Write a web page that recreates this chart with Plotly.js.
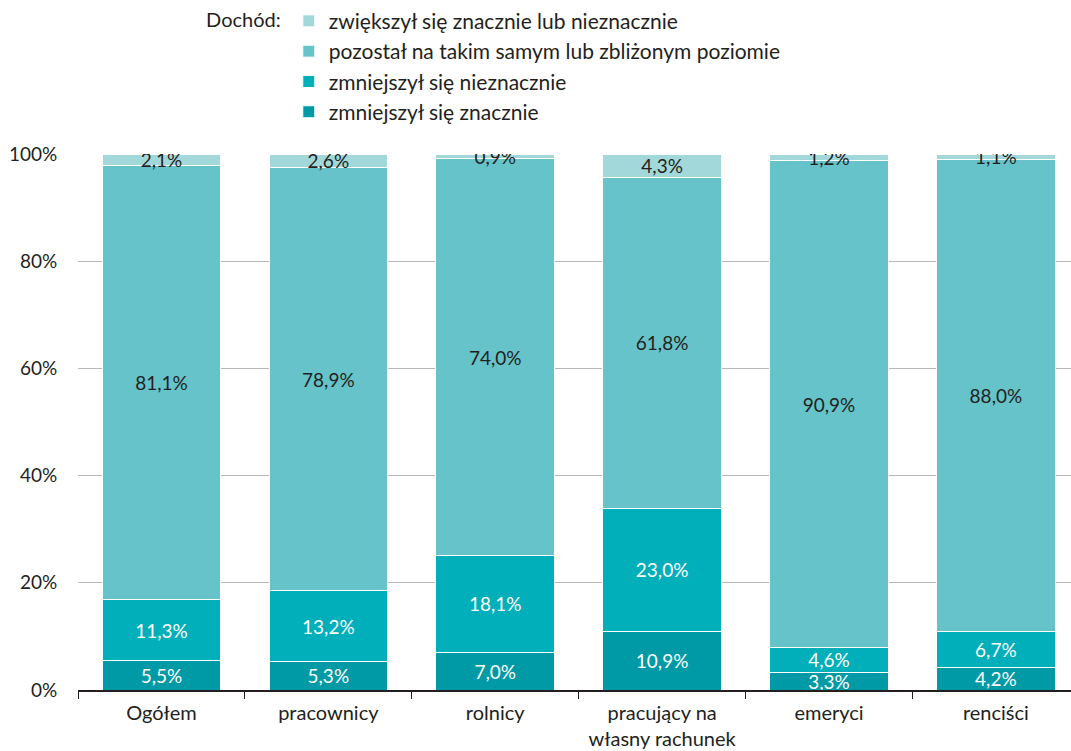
<!DOCTYPE html>
<html><head><meta charset="utf-8">
<script src="https://cdn.plot.ly/plotly-3.0.1.min.js"></script>
<style>html,body{margin:0;padding:0;background:#fff}</style>
</head><body><div id="chart" style="width:1071px;height:751px"></div>
<script>
var categories = ["Ogółem", "pracownicy", "rolnicy", "pracujący na<br>własny rachunek", "emeryci", "renciści"];
var seriesNames = ["zmniejszył się znacznie", "zmniejszył się nieznacznie", "pozostał na takim samym lub zbliżonym poziomie", "zwiększył się znacznie lub nieznacznie"];
var decreasedMuch = [5.5, 5.3, 7.0, 10.9, 3.3, 4.2];
var decreasedLittle = [11.3, 13.2, 18.1, 23.0, 4.6, 6.7];
var unchanged = [81.1, 78.9, 74.0, 61.8, 90.9, 88.0];
var increased = [2.1, 2.6, 0.9, 4.3, 1.2, 1.1];
var yTickVals = [0, 20, 40, 60, 80, 100];
var yTickText = ["0%", "20%", "40%", "60%", "80%", "100%"];

var values = [decreasedMuch, decreasedLittle, unchanged, increased];
var colors = ["#009aa6", "#00afba", "#65c3c9", "#a3d8db"];
var textColors = ["#ffffff", "#ffffff", "#231f20", "#231f20"];
var FONT = "Lato, 'Open Sans', sans-serif";

function fmt(v){ return v.toFixed(1).replace('.', ',') + '%'; }

var traces = values.map(function(vals, i){
  return {
    type: 'bar',
    name: seriesNames[i],
    legendrank: 10 - i,
    x: categories,
    y: vals,
    text: vals.map(fmt),
    textposition: 'inside',
    insidetextanchor: 'middle',
    constraintext: 'none',
    textangle: 0,
    textfont: {family: FONT, size: 19, color: textColors[i]},
    marker: {color: colors[i], line: {color: '#ffffff', width: 1}},
    hoverinfo: 'skip'
  };
});

var layout = {
  width: 1071, height: 751,
  margin: {l: 78, r: 0, t: 154, b: 61},
  paper_bgcolor: '#ffffff', plot_bgcolor: '#ffffff',
  barmode: 'stack',
  bargap: 0.29,
  font: {family: FONT, size: 19, color: '#231f20'},
  xaxis: {
    type: 'category',
    range: [-0.5, 5.45],
    tickson: 'boundaries',
    ticks: 'outside', ticklen: 7, tickwidth: 1, tickcolor: '#231f20',
    ticklabelstandoff: 4,
    showline: true, linecolor: '#231f20', linewidth: 2,
    showgrid: false,
    tickfont: {family: FONT, size: 20, color: '#231f20'},
    fixedrange: true
  },
  yaxis: {
    range: [0, 100],
    tickvals: yTickVals, ticktext: yTickText,
    showgrid: true, gridcolor: '#b8b8b8', gridwidth: 1,
    zeroline: false, showline: false,
    ticks: 'outside', ticklen: 16, tickcolor: 'rgba(0,0,0,0)',
    tickfont: {family: FONT, size: 19, color: '#231f20'},
    fixedrange: true
  },
  legend: {
    orientation: 'v',
    x: 0.127, xanchor: 'left',
    y: 1.286, yanchor: 'top',
    traceorder: 'normal',
    itemwidth: 30,
    title: {text: 'Dochód:', side: 'left', font: {family: FONT, size: 20, color: '#231f20'}},
    font: {family: FONT, size: 21, color: '#231f20'},
    bgcolor: 'rgba(0,0,0,0)'
  },
  showlegend: true
};

Plotly.newPlot('chart', traces, layout, {displayModeBar: false, staticPlot: true});
</script></body></html>
